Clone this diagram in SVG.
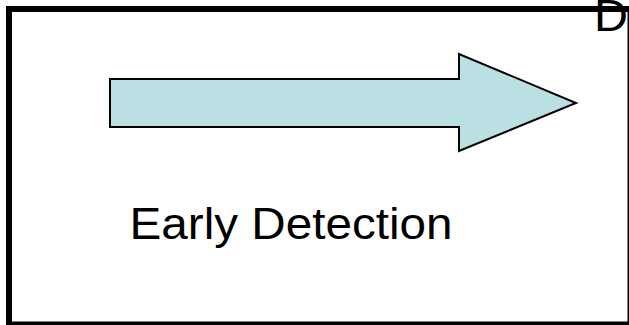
<svg xmlns="http://www.w3.org/2000/svg" width="629" height="325" viewBox="0 0 629 325">
  <style>
    .label { font-family: "Liberation Sans", Arial, sans-serif; font-size: 45px; fill: #000; }
    .frame { fill: none; stroke: #000; stroke-width: 6; }
    .arrow { fill: #BBE0E3; stroke: #000; stroke-width: 2; stroke-linejoin: miter; }
  </style>
  <rect width="629" height="325" fill="#fff"/>
  <g id="frame">
    <rect class="frame" x="9" y="9" width="621.5" height="315.5"/>
  </g>
  <g id="corner-letter">
    <text class="label" x="594" y="31" textLength="34" lengthAdjust="spacingAndGlyphs">D</text>
  </g>
  <g id="arrow">
    <polygon class="arrow" points="110,79 459,79 459,54 576,103 459,151 459,127 110,127"/>
  </g>
  <g id="caption">
    <text class="label" x="129.5" y="239" textLength="323" lengthAdjust="spacingAndGlyphs">Early Detection</text>
  </g>
</svg>
